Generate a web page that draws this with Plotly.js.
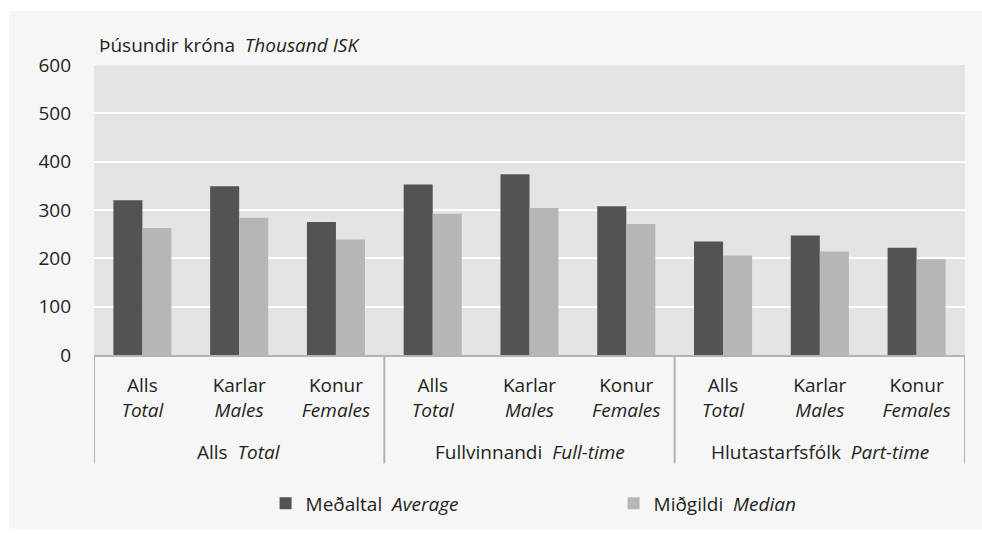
<!DOCTYPE html>
<html><head><meta charset="utf-8">
<script src="https://cdn.plot.ly/plotly-3.0.1.min.js"></script>
<style>html,body{margin:0;padding:0;background:#fff}#chart{width:982px;height:534px}</style>
</head><body><div id="chart"></div>
<script>
const groupLabels = ['Alls  <i>Total</i>', 'Fullvinnandi  <i>Full-time</i>', 'Hlutastarfsfólk  <i>Part-time</i>'];
const subLabels = ['Alls<br><i>Total</i>', 'Karlar<br><i>Males</i>', 'Konur<br><i>Females</i>'];
const average = [320, 349, 275, 353, 374, 308, 235, 247, 222];
const median = [263, 284, 239, 292, 304, 271, 206, 214, 198];
const seriesNames = ['Meðaltal  <i>Average</i>', 'Miðgildi  <i>Median</i>'];
const yTicks = [0, 100, 200, 300, 400, 500, 600];
const yTitle = 'Þúsundir króna  <i>Thousand ISK</i>';

// positions: one slot per (group, sub) pair
const xIdx = [], xText = [];
groupLabels.forEach((g, gi) => subLabels.forEach((s, si) => {
  xIdx.push(gi * subLabels.length + si); xText.push(s);
}));
const nSub = subLabels.length;

const traces = [
  {type: 'bar', name: seriesNames[0], x: xIdx, y: average, marker: {color: '#535353'}},
  {type: 'bar', name: seriesNames[1], x: xIdx, y: median, marker: {color: '#b5b6b5'}}
];

const PY = 294; // plot height in px
const divBottom = -(469 - 359) / PY;
const groupY = -(457 - 359) / PY;

const shapes = [
  {type: 'rect', xref: 'paper', yref: 'paper', x0: -0.0976, x1: 1.02, y0: -0.6, y1: 1.187,
   fillcolor: '#f6f6f6', line: {width: 0}, layer: 'below'},
  {type: 'rect', xref: 'paper', yref: 'paper', x0: 0, x1: 1, y0: 0, y1: 1,
   fillcolor: '#e4e4e4', line: {width: 0}, layer: 'below'}
];
for (let g = 0; g <= groupLabels.length; g++) {
  shapes.push({type: 'line', xref: 'x', yref: 'paper', x0: g * nSub - 0.5, x1: g * nSub - 0.5,
    y0: 0, y1: divBottom, line: {color: '#b3b3b3', width: 2}, layer: 'above'});
}

const annotations = [
  {text: yTitle, xref: 'paper', yref: 'paper', x: 0.003, y: 1.068, xanchor: 'left', yanchor: 'middle',
   showarrow: false, font: {size: 19}}
];
groupLabels.forEach((g, gi) => annotations.push({
  text: g, xref: 'x', yref: 'paper', x: gi * nSub + (nSub - 1) / 2, y: groupY,
  xanchor: 'center', yanchor: 'middle', showarrow: false, font: {size: 19}
}));

const layout = {
  width: 982, height: 534,
  margin: {l: 94, r: 17, t: 65, b: 175},
  paper_bgcolor: '#ffffff',
  plot_bgcolor: 'rgba(0,0,0,0)',
  font: {family: 'Open Sans, sans-serif', size: 19, color: '#231f20'},
  barmode: 'group', bargap: 0.4, bargroupgap: 0,
  showlegend: true,
  xaxis: {
    type: 'linear', range: [-0.5, xIdx.length - 0.5], tickvals: xIdx, ticktext: xText,
    showline: true, linecolor: '#b3b3b3', linewidth: 2, ticks: '', showgrid: false, zeroline: false,
    ticklabelstandoff: 12, tickfont: {size: 19}
  },
  yaxis: {
    range: [0, 600], tickvals: yTicks, ticktext: yTicks.map(String), showgrid: true, gridcolor: '#ffffff', gridwidth: 2,
    zeroline: false, ticks: '', ticklabelstandoff: 22, tickfont: {size: 19}
  },
  legend: {
    orientation: 'h', x: 0.197, y: -0.512, xanchor: 'left', yanchor: 'middle',
    entrywidth: 303, entrywidthmode: 'pixels', font: {size: 19}, bgcolor: 'rgba(0,0,0,0)'
  },
  shapes: shapes,
  annotations: annotations
};

Plotly.newPlot('chart', traces, layout, {displayModeBar: false, staticPlot: true});
</script>
</body></html>
